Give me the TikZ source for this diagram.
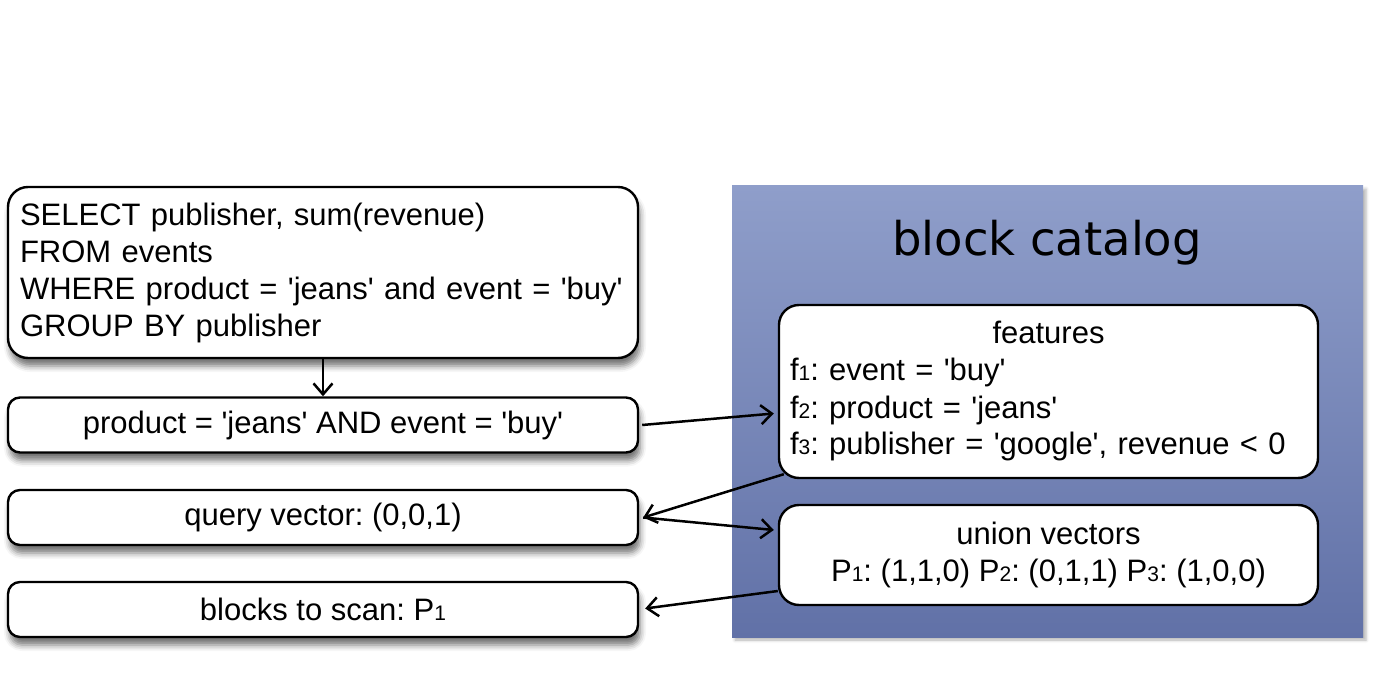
\documentclass[tikz,border=0pt]{standalone}
\usepackage{fontspec}
\setmainfont{Liberation Sans}
\newfontfamily\titlefont{DejaVu Sans}
\usetikzlibrary{arrows.meta,shadows.blur}
\definecolor{pantop}{HTML}{8F9ECA}
\definecolor{panbot}{HTML}{6171A7}
\newcommand\smd[1]{{\fontsize{21}{21}\selectfont #1}}
\newcommand\qq{\textquotesingle}
\frenchspacing
\begin{document}
\begin{tikzpicture}[x=1pt,y=-1pt,
  txt/.style={font=\fontsize{31}{37}\selectfont},
  box/.style={txt,draw=black,line width=2.4pt,fill=white,rounded corners=12pt,
    minimum width=630pt,minimum height=55pt,inner sep=0pt,
    blur shadow={shadow xshift=2pt,shadow yshift=-8pt,shadow blur radius=6pt,shadow opacity=55}},
  bigbox/.style={box,rounded corners=20pt},
  catbox/.style={txt,draw=black,line width=2.4pt,fill=white,rounded corners=20pt,
    minimum width=539pt,inner sep=0pt},
  panel/.style={draw=none,top color=pantop,bottom color=panbot,
    minimum width=631pt,minimum height=451pt,inner sep=0pt,
    blur shadow={shadow xshift=3pt,shadow yshift=-3pt,shadow blur radius=3pt,shadow opacity=30}},
  arr/.style={line width=2.5pt,-{Straight Barb[length=11pt,width=19pt,line width=2.5pt]}}
]
\useasboundingbox (0,0) rectangle (1387,676);
\node[panel] (cat) at (1047.5,411.5) {};
\node[font=\titlefont\fontsize{46.5}{46.5}\selectfont,anchor=base] (title) at (1047,256) {block catalog};

\node[bigbox,minimum height=171pt,text width=606pt,align=left] (sql) at (323,272.5)
  {SELECT publisher, sum(revenue)\\FROM events\\WHERE product = \qq jeans\qq{} and event = \qq buy\qq\\GROUP BY publisher};
\node[box] (pred) at (323,425) {product = \qq jeans\qq{} AND event = \qq buy\qq};
\node[box] (qv) at (323,517.5) {query vector: (0,0,1)};
\node[box] (bs) at (323,609.5) {blocks to scan: P\smd{1}};

\node[catbox,minimum height=173pt,text width=517pt,align=left] (feat) at (1048.5,391.5)
  {\makebox[517pt]{features}\\f\smd{1}: event = \qq buy\qq\\f\smd{2}: product = \qq jeans\qq\\f\smd{3}: publisher = \qq google\qq, revenue < 0};
\node[catbox,minimum height=100pt,align=center] (union) at (1048.5,555)
  {union vectors\\P\smd{1}: (1,1,0) P\smd{2}: (0,1,1) P\smd{3}: (1,0,0)};

\draw[arr] (sql.south) -- (pred.north);
\draw[arr] ([xshift=3pt]pred.east) -- ([xshift=-4pt,yshift=-22pt]feat.west);
\draw[arr] ([xshift=6pt,yshift=5pt]feat.south west) -- ([xshift=4pt]qv.east);
\draw[arr] ([xshift=4pt]qv.east) -- ([xshift=-4pt,yshift=25pt]union.west);
\draw[arr] ([xshift=0pt,yshift=-36pt]union.west) -- ([xshift=6pt,yshift=1pt]bs.east);
\end{tikzpicture}
\end{document}
